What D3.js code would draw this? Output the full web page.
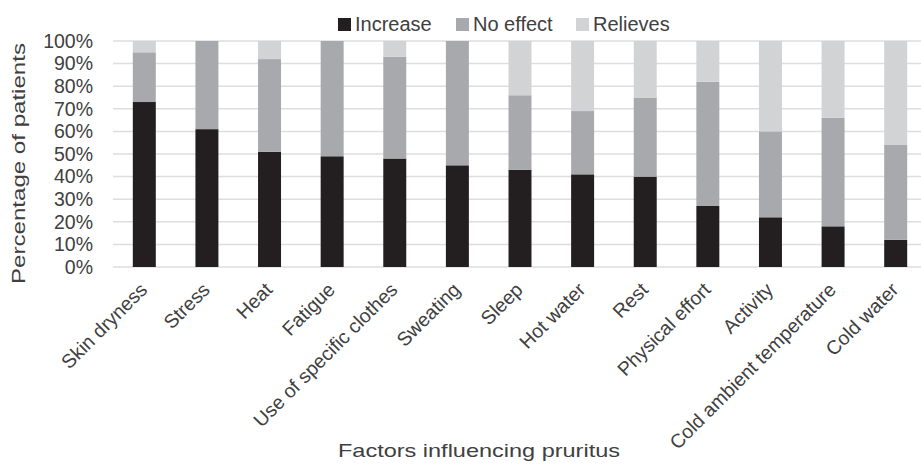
<!DOCTYPE html>
<html>
<head>
<meta charset="utf-8">
<script src="https://cdn.jsdelivr.net/npm/d3@7"></script>
<style>
  html, body { margin: 0; padding: 0; background: #fff; }
  svg { display: block; font-family: "Liberation Sans", Arial, sans-serif; }
</style>
</head>
<body>
<svg id="chart" width="921" height="464"></svg>
<script>
const categories = ["Skin dryness", "Stress", "Heat", "Fatigue", "Use of specific clothes", "Sweating",
  "Sleep", "Hot water", "Rest", "Physical effort", "Activity", "Cold ambient temperature", "Cold water"];
const increase = [73, 61, 51, 49, 48, 45, 43, 41, 40, 27, 22, 18, 12];
const noEffect = [22, 39, 41, 51, 45, 55, 33, 28, 35, 55, 38, 48, 42];
const relieves = [5, 0, 8, 0, 7, 0, 24, 31, 25, 18, 40, 34, 46];
const seriesNames = ["Increase", "No effect", "Relieves"];
const seriesColors = ["#231f20", "#a7a9ac", "#d1d3d4"];
const yTicks = [0, 10, 20, 30, 40, 50, 60, 70, 80, 90, 100];
const xTitle = "Factors influencing pruritus";
const yTitle = "Percentage of patients";

(function () {
const svg = d3.select("#chart");
const W = 921;
const mLeft = 113, mRight = 927, mTop = 41, mBottom = 267;
const textColor = "#404040";

const x = d3.scaleBand().domain(categories).range([mLeft, mRight]).paddingInner(0.633).paddingOuter(0.3165);
const y = d3.scaleLinear().domain([0, 100]).range([mBottom, mTop]);

// gridlines
svg.append("g").selectAll("line").data(yTicks).join("line")
  .attr("x1", mLeft).attr("x2", W)
  .attr("y1", d => y(d)).attr("y2", d => y(d))
  .attr("stroke", "#dedede").attr("stroke-width", 1.5);

// y tick labels
svg.append("g").selectAll("text").data(yTicks).join("text")
  .attr("x", mLeft - 20).attr("y", d => y(d)).attr("dy", "0.35em")
  .attr("text-anchor", "end").attr("fill", textColor).attr("font-size", 19.5)
  .text(d => d + "%");

// stacked data
const rows = categories.map((c, i) => ({cat: c, "Increase": increase[i], "No effect": noEffect[i], "Relieves": relieves[i]}));
const stack = d3.stack().keys(seriesNames)(rows);

svg.append("g").selectAll("g").data(stack).join("g")
  .attr("fill", (d, i) => seriesColors[i])
  .selectAll("rect").data(d => d).join("rect")
  .attr("x", d => x(d.data.cat))
  .attr("width", x.bandwidth())
  .attr("y", d => y(Math.min(d[1], 100)))
  .attr("height", d => Math.max(0, y(d[0]) - y(Math.min(d[1], 100))));

// x category labels
svg.append("g").selectAll("text").data(categories).join("text")
  .attr("transform", d => `translate(${x(d) + x.bandwidth() / 2 + 4},${mBottom + 24}) rotate(-45)`)
  .attr("text-anchor", "end").attr("fill", textColor).attr("font-size", 19.5)
  .text(d => d);

// axis titles
svg.append("text")
  .attr("x", 338).attr("y", 457)
  .attr("fill", textColor).attr("font-size", 19)
  .attr("textLength", 282).attr("lengthAdjust", "spacingAndGlyphs")
  .text(xTitle);

svg.append("text")
  .attr("transform", "translate(25,284) rotate(-90)")
  .attr("fill", textColor).attr("font-size", 19)
  .attr("textLength", 241).attr("lengthAdjust", "spacingAndGlyphs")
  .text(yTitle);

// legend
const legendX = [338, 456, 576];
const lg = svg.append("g").selectAll("g").data(seriesNames).join("g")
  .attr("transform", (d, i) => `translate(${legendX[i]},0)`);
lg.append("rect").attr("x", 0).attr("y", 18).attr("width", 13).attr("height", 13)
  .attr("fill", (d, i) => seriesColors[i]);
lg.append("text").attr("x", 17).attr("y", 31)
  .attr("fill", textColor).attr("font-size", 20)
  .text(d => d);
})();
</script>
</body>
</html>
